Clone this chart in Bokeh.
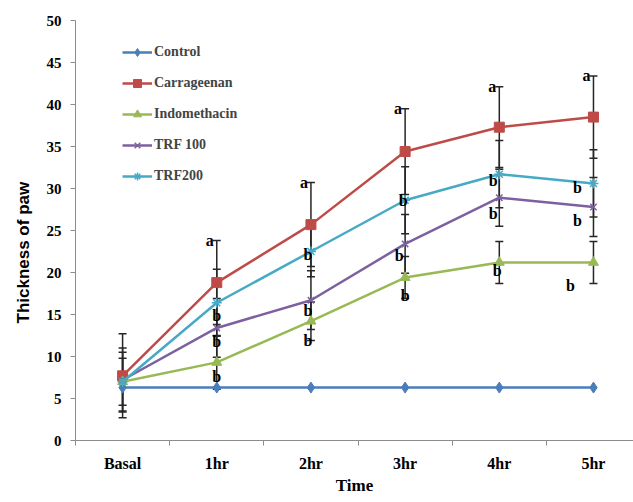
import math
from bokeh.plotting import figure
from bokeh.models import (FixedTicker, Whisker, ColumnDataSource, Legend, LegendItem,
                          Title, TeeHead, Range1d)
from bokeh.core.properties import value
from bokeh.embed import file_html
from bokeh.resources import INLINE

# ---------------- data ----------------
categories = ["Basal", "1hr", "2hr", "3hr", "4hr", "5hr"]

control = [6.3, 6.3, 6.3, 6.3, 6.3, 6.3]
carrageenan = [7.7, 18.8, 25.7, 34.4, 37.3, 38.5]
indomethacin = [7.0, 9.3, 14.2, 19.4, 21.2, 21.2]
trf100 = [7.2, 13.4, 16.7, 23.4, 28.9, 27.8]
trf200 = [7.0, 16.4, 22.5, 28.6, 31.7, 30.6]

carrageenan_err = [5.0, 5.0, 5.0, 5.1, 4.8, 4.9]
indomethacin_err = [2.8, 3.2, 2.3, 2.5, 2.5, 2.5]
trf100_err = [3.8, 3.5, 3.5, 3.5, 3.4, 3.5]
trf200_err = [3.5, 4.0, 3.0, 4.0, 4.0, 4.0]

# significance letters ("b") : category index and value level
b_cat = [1, 1, 1, 2, 2, 2, 3, 3, 3, 4, 4, 4, 5, 5, 5]
b_val = [14.9, 11.8, 7.6, 22.1, 15.5, 11.9, 28.6, 22.0, 17.3, 31.0, 27.0, 20.2, 30.1, 26.2, 18.5]
a_cat = [1, 2, 3, 4, 5]

# ---------------- styling ----------------
SERIF = "Liberation Serif"
SANS = "Liberation Sans"
AXIS_GRAY = "#8c8c8c"
ERR_COLOR = "#262626"
b_dx = [0, 0, 0, -3, -3, -3, -2, -6, 0, -6, -6, -2, -16, -16, -23]

series = [
    ("Control", control, None, "#4A7EBB", "diamond", 11),
    ("Carrageenan", carrageenan, carrageenan_err, "#BE4B48", "square", 10),
    ("Indomethacin", indomethacin, indomethacin_err, "#98B954", "triangle", 10),
    ("TRF 100", trf100, trf100_err, "#7D60A0", "x", 9),
    ("TRF200", trf200, trf200_err, "#46AAC5", "asterisk", 10),
]

centers = [i + 0.5 for i in range(len(categories))]

p = figure(width=633, height=502, output_backend="svg", toolbar_location=None,
           x_range=Range1d(0, 5.925), y_range=Range1d(0, 50),
           min_border_left=75, min_border_right=0, min_border_top=20,
           min_border_bottom=62)
p.outline_line_color = None
p.grid.visible = False
p.background_fill_color = "white"
p.border_fill_color = "white"

# error bars
for name, vals, errs, color, marker, size in series:
    if errs is None:
        continue
    src = ColumnDataSource(dict(
        x=centers,
        upper=[v + e for v, e in zip(vals, errs)],
        lower=[v - e for v, e in zip(vals, errs)],
    ))
    w = Whisker(base="x", upper="upper", lower="lower", source=src,
                line_color=ERR_COLOR, line_width=1.5,
                upper_head=TeeHead(size=8, line_color=ERR_COLOR, line_width=1.5),
                lower_head=TeeHead(size=8, line_color=ERR_COLOR, line_width=1.5))
    p.add_layout(w)

items = []
for name, vals, errs, color, marker, size in series:
    rl = p.line(centers, vals, line_color=color, line_width=2.5)
    if marker in ("x", "asterisk"):
        rm = p.scatter(centers, vals, marker=marker, size=size, line_color=color,
                       line_width=1.5)
    else:
        rm = p.scatter(centers, vals, marker=marker, size=size, fill_color=color,
                       line_color=color)
    items.append(LegendItem(label=name, renderers=[rl, rm]))

# "a" letters beside the Carrageenan upper caps
a_src = ColumnDataSource(dict(
    x=[centers[i] for i in a_cat],
    y=[carrageenan[i] + carrageenan_err[i] for i in a_cat],
    t=["a"] * len(a_cat),
))
p.text(x="x", y="y", text="t", source=a_src, text_font=value(SERIF),
       text_font_style="bold", text_font_size="16px", text_color="black",
       text_align="right", text_baseline="middle", x_offset=-3)

b_src = ColumnDataSource(dict(
    x=[centers[i] for i in b_cat],
    y=b_val,
    t=["b"] * len(b_cat),
    dx=b_dx,
))
p.text(x="x", y="y", text="t", source=b_src, text_font=value(SERIF),
       text_font_style="bold", text_font_size="16px", text_color="black",
       text_align="center", text_baseline="middle", x_offset="dx")

legend = Legend(items=items, location=(47, 254), glyph_width=30, glyph_height=20,
                label_height=20, spacing=11, padding=0, margin=0,
                border_line_color=None, background_fill_alpha=0,
                label_text_font=SERIF, label_text_font_style="bold",
                label_text_font_size="14px", label_standoff=2)
p.add_layout(legend)

# x axis
xa = p.xaxis[0]
xa.ticker = FixedTicker(ticks=centers, minor_ticks=[0, 1, 2, 3, 4, 5, 6])
xa.major_label_overrides = {c: lab for c, lab in zip(centers, categories)}
xa.major_tick_out = 0
xa.major_tick_in = 0
xa.minor_tick_out = 5
xa.minor_tick_in = 0
xa.minor_tick_line_color = AXIS_GRAY
xa.axis_line_color = AXIS_GRAY
xa.major_label_text_font = SERIF
xa.major_label_text_font_style = "bold"
xa.major_label_text_font_size = "16px"
xa.major_label_text_color = "black"
xa.major_label_standoff = 9
xa.axis_label = "Time"
xa.axis_label_text_font = SERIF
xa.axis_label_text_font_style = "bold"
xa.axis_label_text_font_size = "17px"
xa.axis_label_text_color = "black"
xa.axis_label_standoff = 1

# y axis
ya = p.yaxis[0]
ya.ticker = FixedTicker(ticks=list(range(0, 51, 5)), minor_ticks=[])
ya.major_tick_out = 5
ya.major_tick_in = 0
ya.major_tick_line_color = AXIS_GRAY
ya.axis_line_color = AXIS_GRAY
ya.minor_tick_line_color = None
ya.major_label_text_font = SERIF
ya.major_label_text_font_style = "bold"
ya.major_label_text_font_size = "15px"
ya.major_label_text_color = "black"
ya.major_label_standoff = 9

ytitle = Title(text="Thickness of paw", align="left", offset=117,
               text_font=SANS, text_font_style="bold", text_font_size="17px",
               text_color="black", standoff=22)
p.add_layout(ytitle, "left")

open("out.html", "w").write(file_html(p, INLINE))
